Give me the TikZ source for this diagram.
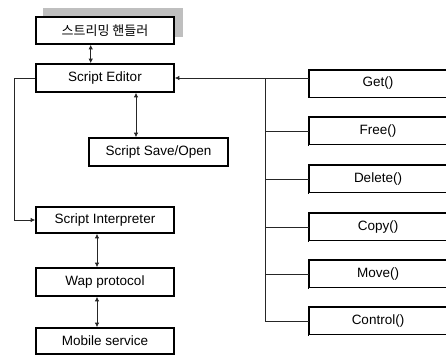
\documentclass[tikz,border=0pt]{standalone}
\usepackage{fontspec}
\setmainfont{Liberation Sans}
\newfontfamily\krfont{Noto Sans CJK KR}
\usetikzlibrary{arrows.meta}
\begin{document}
\begin{tikzpicture}[x=1pt,y=-1pt,
  box/.style={draw=black,line width=1.6pt,fill=white,minimum width=138pt,
    minimum height=27pt,inner sep=0pt,font=\fontsize{13.5}{15}\selectfont},
  opbox/.style={box,line width=1pt,
    append after command={\pgfextra{\draw[line width=1.8pt,line cap=rect]
      (\tikzlastnode.south west) -- (\tikzlastnode.north west) -- (\tikzlastnode.north east);}}},
  link/.style={line width=0.8pt,draw=black!85},
  arr/.style={link,-{Latex[length=4.5pt,width=4.5pt]}},
  darr/.style={link,{Latex[length=4.5pt,width=4.5pt]}-{Latex[length=4.5pt,width=4.5pt]}}]
\useasboundingbox (0,0) rectangle (446,356);
% drop shadow behind the top box
\fill[black!25] (43,8) rectangle (183,37);
% left column
\node[box] (stream) at (105,30.5) {\krfont\fontsize{13}{15}\selectfont 스트리밍 핸들러};
\node[box,minimum height=28pt] (editor) at (105,78) {Script Editor};
\node[box,minimum height=28pt,minimum width=139pt] (save) at (158.5,152) {Script Save/Open};
\node[box,minimum height=26pt] (interp) at (105,220) {Script Interpreter};
\node[box,minimum height=28pt] (wap) at (105,282) {Wap protocol};
\node[box,minimum height=26pt] (mobile) at (105,341) {Mobile service};
% right column of operations
\node[opbox] (get) at (378,83.5) {Get()};
\node[opbox] (free) at (378,131) {Free()};
\node[opbox] (delete) at (378,179) {Delete()};
\node[opbox] (copy) at (378,227) {Copy()};
\node[opbox] (move) at (378,274) {Move()};
\node[opbox] (control) at (378,321) {Control()};
% connectors
\draw[darr] (stream.south -| 90.7,0) -- (editor.north -| 90.7,0);
\draw[darr] (editor.south -| 136,0) -- (save.north -| 136,0);
\draw[darr] (interp.south -| 97,0) -- (wap.north -| 97,0);
\draw[darr] (wap.south -| 97,0) -- (mobile.north -| 97,0);
\coordinate (loop) at (14,0);
\draw[arr] (editor.west) -- (editor.west -| loop) -- (interp.west -| loop) -- (interp.west);
\coordinate (bus) at (265,0);
\draw[arr] (get.west |- editor.east) -- (editor.east);
\draw[link] (bus |- editor.east) -- (bus |- control.west) -- (control.west);
\foreach \n in {free,delete,copy,move}
  \draw[link] (bus |- \n.west) -- (\n.west);
\end{tikzpicture}
\end{document}
